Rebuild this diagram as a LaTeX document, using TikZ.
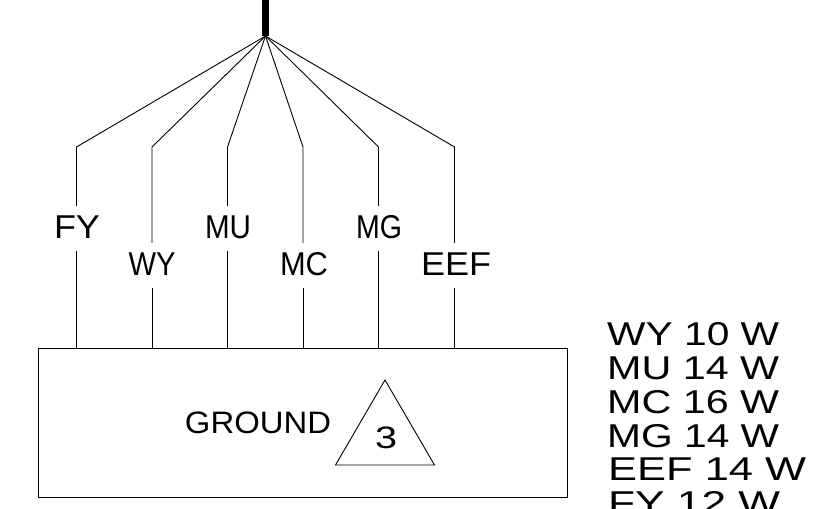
\documentclass[tikz,border=0pt]{standalone}
\usepackage{graphicx}
\usepackage{fontspec}
\setmainfont{Liberation Sans}
\newcommand{\fitw}[2]{\resizebox{#1pt}{\height}{#2}}
\tikzset{
  wire/.style={draw=black,line width=0.9pt,line join=miter},
  trunk/.style={draw=black,line width=7pt},
  outline/.style={draw=black,line width=1.1pt},
  tag/.style={inner sep=0pt,anchor=base,text height=32.5pt,text depth=12.5pt,font=\fontsize{33}{33}\selectfont},
  plain/.style={inner sep=0pt,anchor=base,font=\fontsize{33}{33}\selectfont},
  small/.style={inner sep=0pt,anchor=base,font=\fontsize{31}{31}\selectfont},
}
\begin{document}
\begin{tikzpicture}[x=1pt,y=-1pt]
\useasboundingbox (0,0) rectangle (818,508);
\clip (0,0) rectangle (818,508);
\coordinate (top) at (265.5,0);
\coordinate (hub) at (265.5,36);
\draw[trunk] (top) -- (hub);
% box
\node[outline,anchor=north west,minimum width=529pt,minimum height=149pt,inner sep=0pt] (box) at (38,348) {};
% labels on the wires
\node[tag] (fy) at (76.5,238.5) {\hspace*{1pt}\fitw{46}{FY}};
\node[tag] (wy) at (152,275.5) {\fitw{47}{WY}};
\node[tag] (mu) at (227.5,238.5) {\hspace*{1pt}\fitw{46}{MU}};
\node[tag] (mc) at (303,275.5) {\hspace*{2pt}\fitw{48}{MC}};
\node[tag] (mg) at (378.5,238.5) {\hspace*{1pt}\fitw{46}{MG}};
\node[tag] (eef) at (454.5,275.5) {\hspace*{3pt}\fitw{70}{EEF}};
% wires
\foreach \n/\xx in {fy/76.5,wy/152,mu/227.5,mc/303,mg/378.5,eef/454.5}{
  \coordinate (k\n) at (\xx,147);
  \coordinate (b\n) at (\xx,348);
  \draw[wire] (hub) -- (k\n) -- (\n.north);
  \draw[wire] (\n.south) -- (b\n);
}
% ground
\node[small] (ground) at (258,433) {\fitw{146}{GROUND}};
\coordinate (ta) at (385,380);
\coordinate (tl) at (335.5,465);
\coordinate (tr) at (434.5,465);
\draw[wire] (ta) -- (tl) -- (tr) -- cycle;
\node[small] (three) at (386,448) {\fitw{22}{3}};
% legend
\node[plain,anchor=base west] (l1) at (607,345.5) {\fitw{172}{WY 10 W}};
\node[plain,anchor=base west] (l2) at (607,379.5) {\fitw{172}{MU 14 W}};
\node[plain,anchor=base west] (l3) at (607,413.5) {\fitw{172}{MC 16 W}};
\node[plain,anchor=base west] (l4) at (607,447.5) {\fitw{172}{MG 14 W}};
\node[plain,anchor=base west] (l5) at (608,480.5) {\fitw{198}{EEF 14 W}};
\node[plain,anchor=base west] (l6) at (608,514.5) {\fitw{172}{FY 12 W}};
\end{tikzpicture}
\end{document}
